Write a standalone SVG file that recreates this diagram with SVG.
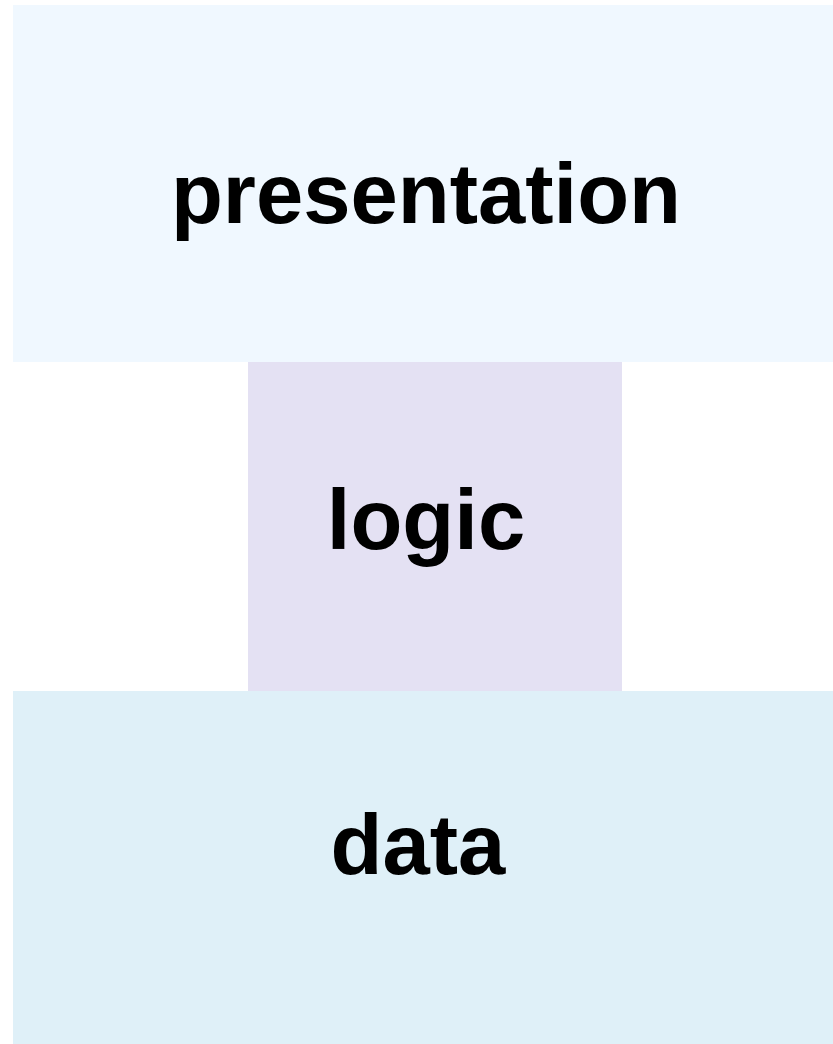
<svg xmlns="http://www.w3.org/2000/svg" width="833" height="1044" viewBox="0 0 833 1044">
<style>
.lbl{font-family:"Liberation Sans",Arial,sans-serif;font-weight:bold;font-size:85px;fill:#000;text-anchor:middle}
</style>
<rect x="0" y="0" width="833" height="1044" fill="#ffffff"/>
<g id="presentation">
<rect x="13" y="5" width="820" height="357" fill="#F0F8FF"/>
<text class="lbl" x="426" y="223">presentation</text>
</g>
<g id="logic">
<rect x="248" y="362" width="374" height="329" fill="#E4E1F3"/>
<text class="lbl" x="426" y="549">logic</text>
</g>
<g id="data">
<rect x="13" y="691" width="820" height="353" fill="#DFF0F8"/>
<text class="lbl" x="418" y="874">data</text>
</g>
<g id="connectors"></g>
</svg>
